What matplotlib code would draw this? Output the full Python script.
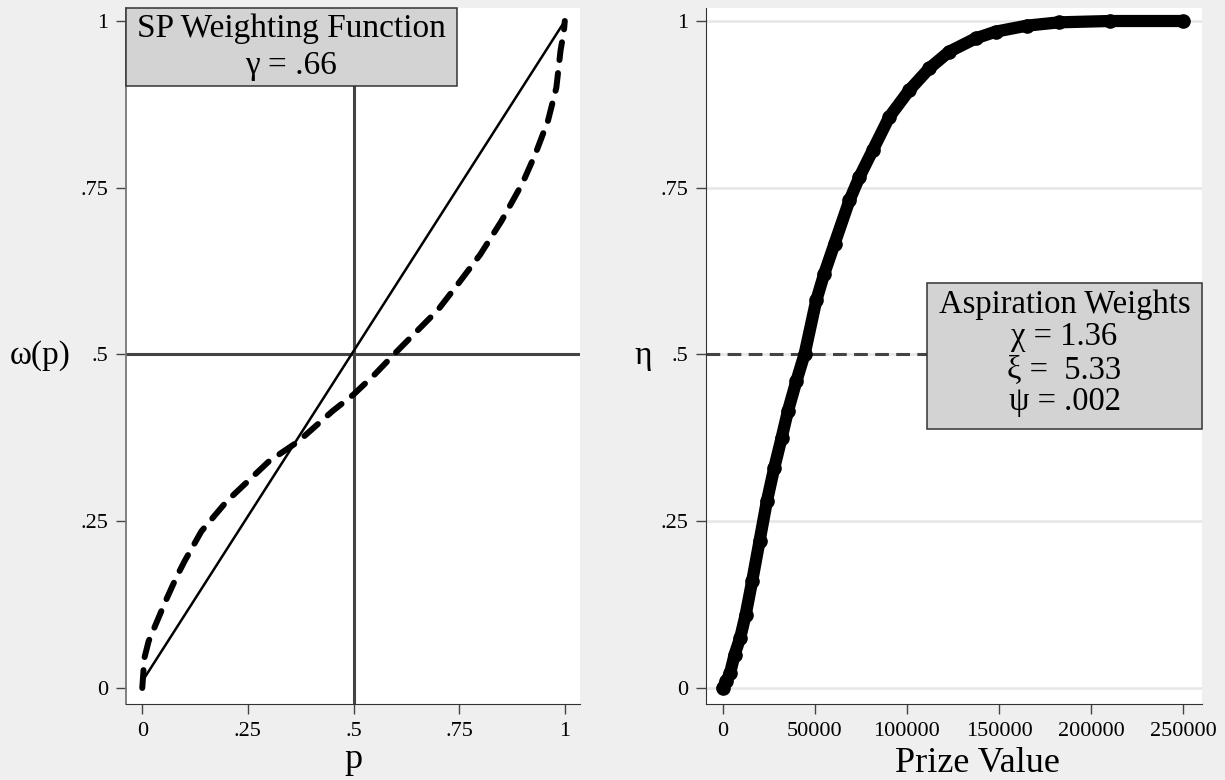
import matplotlib
matplotlib.use('Agg')
import matplotlib.pyplot as plt
from matplotlib.patches import Rectangle

plt.rcParams['font.family'] = ['Liberation Serif', 'DejaVu Serif']

# left panel: SP weighting function
p_vals = [0, .005, .015, .035, .055, .08, .1, .14, .2, .25, .3, .37, .45, .5,
          .55, .6, .65, .7, .75, .8, .85, .9, .93, .96, .98, .99, .998, 1]
w_vals = [0, .045, .07, .10, .13, .165, .19, .235, .28, .31, .34, .37, .415, .44,
          .47, .503, .535, .567, .608, .65, .70, .757, .80, .85, .90, .956, .985, 1.0]
diag_p = [0, 1]
diag_w = [0.01, 1]

# right panel: aspiration weights
prize = [0, 2000, 4000, 6500, 9500, 12500, 16000, 20000, 24000, 28000, 32000,
         35500, 40000, 44500, 50800, 55000, 60700, 68800, 74200, 81400, 90400,
         101200, 112100, 122900, 137300, 148100, 165000, 182500, 210000, 250000]
eta = [0, .01, .022, .05, .075, .11, .16, .22, .28, .33, .375, .416, .46, .501,
       .581, .62, .666, .731, .766, .806, .856, .896, .929, .954, .974, .984,
       .993, .998, 1.0, 1.0]

ticks01 = [0, .25, .5, .75, 1]
ticks01_lab = ['0', '.25', '.5', '.75', '1']
prize_ticks = [0, 50000, 100000, 150000, 200000, 250000]
prize_lab = ['0', '50000', '100000', '150000', '200000', '250000']

BG = '#efefef'
fig = plt.figure(figsize=(12.25, 7.8), dpi=100, facecolor=BG)
ax1 = fig.add_axes([126/1225, 76/780, 454/1225, 696/780])
ax2 = fig.add_axes([706/1225, 76/780, 496/1225, 696/780])

for ax in (ax1, ax2):
    ax.set_facecolor('white')
    ax.spines['top'].set_visible(False)
    ax.spines['right'].set_visible(False)
    ax.spines['bottom'].set_color('#333333')
    ax.tick_params(axis='both', direction='out', length=7, width=1,
                   color='#444444', labelsize=16, pad=6)
    ax.set_yticks(ticks01)
    ax.set_yticklabels(ticks01_lab)
    ax.set_ylim(-0.024, 1.0195)

# === left panel ===
ax1.spines['left'].set_color('#777777')
ax1.spines['left'].set_linewidth(1.3)
ax1.set_xlim(-0.0385, 1.036)
ax1.set_xticks(ticks01)
ax1.set_xticklabels(ticks01_lab)
ax1.axvline(0.5, color='#444444', lw=2.2, zorder=2)
ax1.axhline(0.5, color='#444444', lw=2.2, zorder=2)
ax1.plot(diag_p, diag_w, color='black', lw=1.8, zorder=3)
ax1.plot(p_vals, w_vals, color='black', lw=4.3, dashes=(3.0, 2.2),
         dash_capstyle='round', solid_capstyle='round', zorder=4)

ax1.add_patch(Rectangle((0, 0.888), 0.729, 0.112, transform=ax1.transAxes,
                        facecolor='#d3d3d3', edgecolor='#333333', lw=1.1,
                        clip_on=False, zorder=6))
ax1.text(0.3645, 1 - 21/696, 'SP Weighting Function', transform=ax1.transAxes,
         ha='center', va='center', fontsize=24, zorder=7)
ax1.text(0.3645, 1 - 58/696, 'γ = .66', transform=ax1.transAxes,
         ha='center', va='center', fontsize=24, zorder=7)

ax1.set_ylabel('ω(p)', fontsize=24, rotation=0, va='center', ha='center')
ax1.yaxis.set_label_coords(-0.189, 0.5)
ax1.set_xlabel('p', fontsize=26, va='baseline')
ax1.xaxis.set_label_coords(0.5, -0.092)

# === right panel ===
ax2.spines['left'].set_color('#333333')
ax2.set_xlim(-9030, 260100)
ax2.set_xticks(prize_ticks)
ax2.set_xticklabels(prize_lab)
for t in ticks01:
    ax2.axhline(t, color='#e6e6e6', lw=1.8, zorder=1)
ax2.axhline(0.5, color='#444444', lw=2.2, dashes=(4.5, 2.4), zorder=2)
ax2.plot(prize, eta, color='black', lw=8.8, solid_capstyle='round',
         solid_joinstyle='round', marker='o', ms=9.5, zorder=4)

ax2.add_patch(Rectangle((0.4456, 0.395), 0.5544, 0.21, transform=ax2.transAxes,
                        facecolor='#d3d3d3', edgecolor='#333333', lw=1.1,
                        clip_on=False, zorder=6))
box_lines = ['Aspiration Weights', 'χ = 1.36', 'ξ =  5.33', 'ψ = .002']
box_y = [305, 337, 370, 402]
for txt, yy in zip(box_lines, box_y):
    ax2.text(0.7228, (704 - yy)/696, txt, transform=ax2.transAxes,
             ha='center', va='center', fontsize=23.5, zorder=7)

ax2.set_ylabel('η', fontsize=24, rotation=0, va='center', ha='center')
ax2.yaxis.set_label_coords(-0.127, 0.5)
ax2.set_xlabel('Prize Value', fontsize=26, va='baseline')
ax2.xaxis.set_label_coords(0.548, -0.097)

plt.savefig('out.png', dpi=100, facecolor=BG)
